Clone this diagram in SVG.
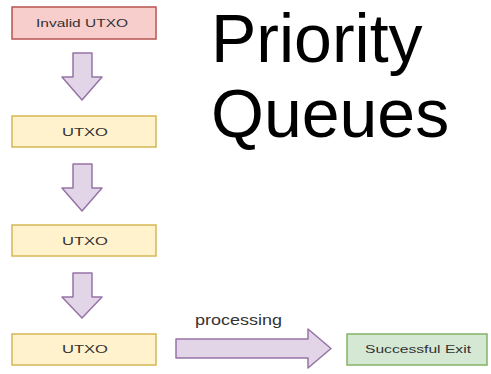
<svg xmlns="http://www.w3.org/2000/svg" width="491" height="374" viewBox="0 0 491 374">
<style>
.lbl{font-family:"Liberation Sans",Arial,sans-serif;font-size:11px;fill:#333;text-anchor:middle}
.y{fill:#fff2cc;stroke:#d6b656;stroke-width:1.5}
.r{fill:#f8cecc;stroke:#b85450;stroke-width:1.5}
.g{fill:#d5e8d4;stroke:#82b366;stroke-width:1.5}
.a{fill:#e1d5e7;stroke:#9673a6;stroke-width:1.5;stroke-linejoin:round}
.t{font-family:"Liberation Sans",Arial,sans-serif;font-size:68px;fill:#000}
</style>
<rect width="491" height="374" fill="#fff"/>
<g id="n1"><rect class="r" x="12" y="7" width="144" height="32"/><text class="lbl" x="82" y="27" textLength="92" lengthAdjust="spacingAndGlyphs">Invalid UTXO</text></g>
<g id="n2"><rect class="y" x="12" y="116" width="144" height="31"/><text class="lbl" x="85" y="136" textLength="46" lengthAdjust="spacingAndGlyphs">UTXO</text></g>
<g id="n3"><rect class="y" x="12" y="225" width="144" height="31"/><text class="lbl" x="85" y="245" textLength="46" lengthAdjust="spacingAndGlyphs">UTXO</text></g>
<g id="n4"><rect class="y" x="12" y="334" width="144" height="31"/><text class="lbl" x="85" y="353" textLength="46" lengthAdjust="spacingAndGlyphs">UTXO</text></g>
<g id="n5"><rect class="g" x="347" y="334" width="140" height="31"/><text class="lbl" x="418" y="353" textLength="106" lengthAdjust="spacingAndGlyphs">Successful Exit</text></g>
<g id="connectors">
<path class="a" d="M73,53 H92 V77 H102 L82,100 L62,77 H73 Z"/>
<path class="a" d="M73,164 H92 V188 H102 L82,211 L62,188 H73 Z"/>
<path class="a" d="M73,273 H92 V297 H102 L82,318 L62,297 H73 Z"/>
<path class="a" d="M176,339 H308 V329 L331,348.5 L308,368 V358 H176 Z"/>
<text x="195" y="325" textLength="87" lengthAdjust="spacingAndGlyphs" style="font-family:'Liberation Sans',Arial,sans-serif;font-size:14px;fill:#333">processing</text>
</g>
<text class="t" x="211" y="62">Priority</text>
<text class="t" x="211" y="137">Queues</text>
</svg>
